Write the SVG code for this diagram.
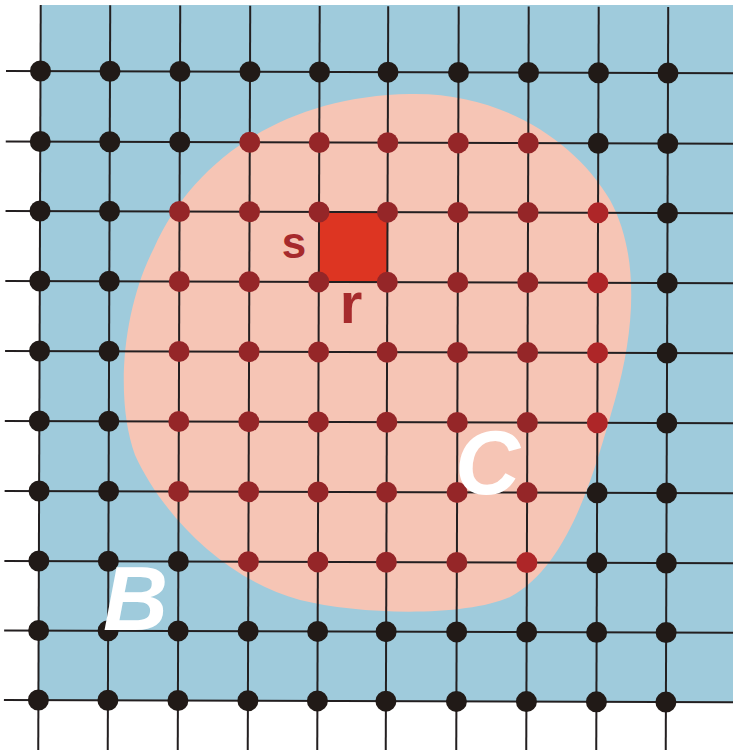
<svg xmlns="http://www.w3.org/2000/svg" width="733" height="750" viewBox="0 0 733 750">
<style>
.g line{stroke:#231f20;stroke-width:2;fill:none}
.k{fill:#211a17}
.d{fill:#952628}
.b{fill:#ae2628}
.lbl{font-family:"Liberation Sans",Arial,sans-serif;font-weight:bold}
.big{fill:#ffffff;font-style:italic;font-size:90px}
.sm{fill:#a62a2c}
</style>
<rect x="0" y="0" width="733" height="750" fill="#ffffff"/>
<g id="region-B">
<polygon points="40.7,5 733,5 733,702.4 38.4,700.5" fill="#9fcbdc"/>
</g>
<g id="region-C">
<path d="M410 94 C500 92 575 140 610 200 C640 255 635 330 615 400 C595 470 570 565 510 597 C465 617 360 615 300 600 C220 578 160 510 135 455 C115 400 122 310 154 248 C192 162 282 96 410 94 Z" fill="#f6c5b5"/>
</g>
<g transform="rotate(0.19 40 71)">
<g id="cell-sr">
<rect x="319.5" y="211" width="68.5" height="70" fill="#dd3522"/>
</g>
<g id="connectors" class="g">
<line x1="6" y1="71" x2="745" y2="71"/>
<line x1="6" y1="141.5" x2="745" y2="141.5"/>
<line x1="6" y1="211" x2="745" y2="211"/>
<line x1="6" y1="281" x2="745" y2="281"/>
<line x1="6" y1="351" x2="745" y2="351"/>
<line x1="6" y1="421" x2="745" y2="421"/>
<line x1="6" y1="491" x2="745" y2="491"/>
<line x1="6" y1="561" x2="745" y2="561"/>
<line x1="6" y1="630.5" x2="745" y2="630.5"/>
<line x1="6" y1="700" x2="745" y2="700"/>
<line x1="40.5" y1="5" x2="40.5" y2="760"/>
<line x1="110" y1="5" x2="110" y2="760"/>
<line x1="180" y1="5" x2="180" y2="760"/>
<line x1="250" y1="5" x2="250" y2="760"/>
<line x1="319.5" y1="5" x2="319.5" y2="760"/>
<line x1="388" y1="5" x2="388" y2="760"/>
<line x1="458.5" y1="5" x2="458.5" y2="760"/>
<line x1="528.5" y1="5" x2="528.5" y2="760"/>
<line x1="598.5" y1="5" x2="598.5" y2="760"/>
<line x1="668" y1="5" x2="668" y2="760"/>
</g>
<g id="nodes">
<g id="row0">
<circle id="n0-0" class="k" cx="40.5" cy="71" r="10.5"/><circle id="n0-1" class="k" cx="110" cy="71" r="10.5"/><circle id="n0-2" class="k" cx="180" cy="71" r="10.5"/><circle id="n0-3" class="k" cx="250" cy="71" r="10.5"/><circle id="n0-4" class="k" cx="319.5" cy="71" r="10.5"/><circle id="n0-5" class="k" cx="388" cy="71" r="10.5"/><circle id="n0-6" class="k" cx="458.5" cy="71" r="10.5"/><circle id="n0-7" class="k" cx="528.5" cy="71" r="10.5"/><circle id="n0-8" class="k" cx="598.5" cy="71" r="10.5"/><circle id="n0-9" class="k" cx="668" cy="71" r="10.5"/>
</g>
<g id="row1">
<circle id="n1-0" class="k" cx="40.5" cy="141.5" r="10.5"/><circle id="n1-1" class="k" cx="110" cy="141.5" r="10.5"/><circle id="n1-2" class="k" cx="180" cy="141.5" r="10.5"/><circle id="n1-3" class="d" cx="250" cy="141.5" r="10.5"/><circle id="n1-4" class="d" cx="319.5" cy="141.5" r="10.5"/><circle id="n1-5" class="d" cx="388" cy="141.5" r="10.5"/><circle id="n1-6" class="d" cx="458.5" cy="141.5" r="10.5"/><circle id="n1-7" class="d" cx="528.5" cy="141.5" r="10.5"/><circle id="n1-8" class="k" cx="598.5" cy="141.5" r="10.5"/><circle id="n1-9" class="k" cx="668" cy="141.5" r="10.5"/>
</g>
<g id="row2">
<circle id="n2-0" class="k" cx="40.5" cy="211" r="10.5"/><circle id="n2-1" class="k" cx="110" cy="211" r="10.5"/><circle id="n2-2" class="d" cx="180" cy="211" r="10.5"/><circle id="n2-3" class="d" cx="250" cy="211" r="10.5"/><circle id="n2-4" class="d" cx="319.5" cy="211" r="10.5"/><circle id="n2-5" class="d" cx="388" cy="211" r="10.5"/><circle id="n2-6" class="d" cx="458.5" cy="211" r="10.5"/><circle id="n2-7" class="d" cx="528.5" cy="211" r="10.5"/><circle id="n2-8" class="b" cx="598.5" cy="211" r="10.5"/><circle id="n2-9" class="k" cx="668" cy="211" r="10.5"/>
</g>
<g id="row3">
<circle id="n3-0" class="k" cx="40.5" cy="281" r="10.5"/><circle id="n3-1" class="k" cx="110" cy="281" r="10.5"/><circle id="n3-2" class="d" cx="180" cy="281" r="10.5"/><circle id="n3-3" class="d" cx="250" cy="281" r="10.5"/><circle id="n3-4" class="d" cx="319.5" cy="281" r="10.5"/><circle id="n3-5" class="d" cx="388" cy="281" r="10.5"/><circle id="n3-6" class="d" cx="458.5" cy="281" r="10.5"/><circle id="n3-7" class="d" cx="528.5" cy="281" r="10.5"/><circle id="n3-8" class="b" cx="598.5" cy="281" r="10.5"/><circle id="n3-9" class="k" cx="668" cy="281" r="10.5"/>
</g>
<g id="row4">
<circle id="n4-0" class="k" cx="40.5" cy="351" r="10.5"/><circle id="n4-1" class="k" cx="110" cy="351" r="10.5"/><circle id="n4-2" class="d" cx="180" cy="351" r="10.5"/><circle id="n4-3" class="d" cx="250" cy="351" r="10.5"/><circle id="n4-4" class="d" cx="319.5" cy="351" r="10.5"/><circle id="n4-5" class="d" cx="388" cy="351" r="10.5"/><circle id="n4-6" class="d" cx="458.5" cy="351" r="10.5"/><circle id="n4-7" class="d" cx="528.5" cy="351" r="10.5"/><circle id="n4-8" class="b" cx="598.5" cy="351" r="10.5"/><circle id="n4-9" class="k" cx="668" cy="351" r="10.5"/>
</g>
<g id="row5">
<circle id="n5-0" class="k" cx="40.5" cy="421" r="10.5"/><circle id="n5-1" class="k" cx="110" cy="421" r="10.5"/><circle id="n5-2" class="d" cx="180" cy="421" r="10.5"/><circle id="n5-3" class="d" cx="250" cy="421" r="10.5"/><circle id="n5-4" class="d" cx="319.5" cy="421" r="10.5"/><circle id="n5-5" class="d" cx="388" cy="421" r="10.5"/><circle id="n5-6" class="d" cx="458.5" cy="421" r="10.5"/><circle id="n5-7" class="d" cx="528.5" cy="421" r="10.5"/><circle id="n5-8" class="b" cx="598.5" cy="421" r="10.5"/><circle id="n5-9" class="k" cx="668" cy="421" r="10.5"/>
</g>
<g id="row6">
<circle id="n6-0" class="k" cx="40.5" cy="491" r="10.5"/><circle id="n6-1" class="k" cx="110" cy="491" r="10.5"/><circle id="n6-2" class="d" cx="180" cy="491" r="10.5"/><circle id="n6-3" class="d" cx="250" cy="491" r="10.5"/><circle id="n6-4" class="d" cx="319.5" cy="491" r="10.5"/><circle id="n6-5" class="d" cx="388" cy="491" r="10.5"/><circle id="n6-6" class="d" cx="458.5" cy="491" r="10.5"/><circle id="n6-7" class="d" cx="528.5" cy="491" r="10.5"/><circle id="n6-8" class="k" cx="598.5" cy="491" r="10.5"/><circle id="n6-9" class="k" cx="668" cy="491" r="10.5"/>
</g>
<g id="row7">
<circle id="n7-0" class="k" cx="40.5" cy="561" r="10.5"/><circle id="n7-1" class="k" cx="110" cy="561" r="10.5"/><circle id="n7-2" class="k" cx="180" cy="561" r="10.5"/><circle id="n7-3" class="d" cx="250" cy="561" r="10.5"/><circle id="n7-4" class="d" cx="319.5" cy="561" r="10.5"/><circle id="n7-5" class="d" cx="388" cy="561" r="10.5"/><circle id="n7-6" class="d" cx="458.5" cy="561" r="10.5"/><circle id="n7-7" class="b" cx="528.5" cy="561" r="10.5"/><circle id="n7-8" class="k" cx="598.5" cy="561" r="10.5"/><circle id="n7-9" class="k" cx="668" cy="561" r="10.5"/>
</g>
<g id="row8">
<circle id="n8-0" class="k" cx="40.5" cy="630.5" r="10.5"/><circle id="n8-1" class="k" cx="110" cy="630.5" r="10.5"/><circle id="n8-2" class="k" cx="180" cy="630.5" r="10.5"/><circle id="n8-3" class="k" cx="250" cy="630.5" r="10.5"/><circle id="n8-4" class="k" cx="319.5" cy="630.5" r="10.5"/><circle id="n8-5" class="k" cx="388" cy="630.5" r="10.5"/><circle id="n8-6" class="k" cx="458.5" cy="630.5" r="10.5"/><circle id="n8-7" class="k" cx="528.5" cy="630.5" r="10.5"/><circle id="n8-8" class="k" cx="598.5" cy="630.5" r="10.5"/><circle id="n8-9" class="k" cx="668" cy="630.5" r="10.5"/>
</g>
<g id="row9">
<circle id="n9-0" class="k" cx="40.5" cy="700" r="10.5"/><circle id="n9-1" class="k" cx="110" cy="700" r="10.5"/><circle id="n9-2" class="k" cx="180" cy="700" r="10.5"/><circle id="n9-3" class="k" cx="250" cy="700" r="10.5"/><circle id="n9-4" class="k" cx="319.5" cy="700" r="10.5"/><circle id="n9-5" class="k" cx="388" cy="700" r="10.5"/><circle id="n9-6" class="k" cx="458.5" cy="700" r="10.5"/><circle id="n9-7" class="k" cx="528.5" cy="700" r="10.5"/><circle id="n9-8" class="k" cx="598.5" cy="700" r="10.5"/><circle id="n9-9" class="k" cx="668" cy="700" r="10.5"/>
</g>
</g>
</g>
<g id="labels" class="lbl">
<text class="sm" x="294" y="258" font-size="44" text-anchor="middle">s</text>
<text class="sm" x="351" y="323" font-size="58" text-anchor="middle">r</text>
<text class="big" x="103" y="630" font-size="88">B</text>
<text class="big" x="455" y="494" font-size="92">C</text>
</g>
</svg>
